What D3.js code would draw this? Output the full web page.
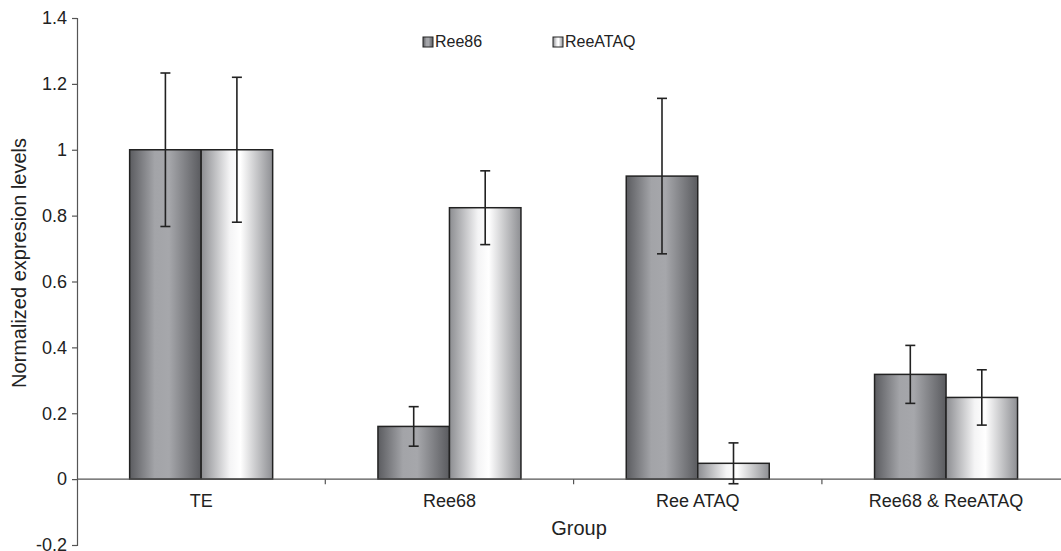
<!DOCTYPE html>
<html>
<head>
<meta charset="utf-8">
<script src="https://cdn.jsdelivr.net/npm/d3@7"></script>
<style>
  body { margin: 0; background: #fff; }
  svg { font-family: "Liberation Sans", Arial, sans-serif; }
</style>
</head>
<body>
<svg id="mysvg" width="1061" height="551"></svg>
<script>
// data
var groups = ["TE", "Ree68", "Ree ATAQ", "Ree68 & ReeATAQ"];
var series = ["Ree86", "ReeATAQ"];
var ree86 = [1.0, 0.16, 0.92, 0.318];
var ree86Err = [0.233, 0.06, 0.236, 0.088];
var reeAtaq = [1.0, 0.824, 0.048, 0.248];
var reeAtaqErr = [0.22, 0.112, 0.062, 0.084];
var yTicks = [-0.2, 0, 0.2, 0.4, 0.6, 0.8, 1, 1.2, 1.4];

var svg = d3.select("#mysvg");

var x0 = 77, yTop = 18, yBot = 545;
var band = 248.3;

var x = d3.scaleBand()
    .domain(groups)
    .range([x0, x0 + band * groups.length])
    .padding(0);

var y = d3.scaleLinear()
    .domain([-0.2, 1.4])
    .range([yBot, yTop]);

var barW = 71.5;

// gradients for the cylinder-ish bars
var defs = svg.append("defs");
function grad(id, stops) {
    var g = defs.append("linearGradient").attr("id", id)
        .attr("x1", "0%").attr("x2", "100%").attr("y1", "0%").attr("y2", "0%");
    stops.forEach(function(s) {
        g.append("stop").attr("offset", s[0]).attr("stop-color", s[1]);
    });
}
grad("gDark", [["0%", "#5b5c60"], ["35%", "#a3a4a8"], ["55%", "#a6a7ab"], ["100%", "#5a5b5f"]]);
grad("gLight", [["0%", "#8c8d91"], ["40%", "#f4f4f5"], ["55%", "#ffffff"], ["100%", "#8e8f93"]]);

var fills = {"Ree86": "url(#gDark)", "ReeATAQ": "url(#gLight)"};

var rows = [];
groups.forEach(function(g, i) {
    rows.push({group: g, s: "Ree86", v: ree86[i], e: ree86Err[i]});
    rows.push({group: g, s: "ReeATAQ", v: reeAtaq[i], e: reeAtaqErr[i]});
});

var x1 = d3.scaleBand().domain(series).range([0, barW * 2]).padding(0);
function barX(d) { return x(d.group) + x.bandwidth() / 2 - barW + x1(d.s); }

// bars
svg.append("g").selectAll("rect")
    .data(rows)
    .enter()
    .append("rect")
    .attr("x", barX)
    .attr("width", x1.bandwidth())
    .attr("y", function(d) { return y(d.v); })
    .attr("height", function(d) { return y(0) - y(d.v); })
    .attr("fill", function(d) { return fills[d.s]; })
    .attr("stroke", "#222")
    .attr("stroke-width", 1.5);

// x axis line at zero
svg.append("line")
    .attr("x1", x0).attr("x2", 1061)
    .attr("y1", y(0)).attr("y2", y(0))
    .attr("stroke", "#555").attr("stroke-width", 1.2);

// x category boundary ticks
svg.append("g").selectAll("line")
    .data(groups.slice(1))
    .enter()
    .append("line")
    .attr("x1", function(d) { return x(d); })
    .attr("x2", function(d) { return x(d); })
    .attr("y1", y(0)).attr("y2", y(0) + 5)
    .attr("stroke", "#555").attr("stroke-width", 1.2);

// x labels
svg.append("g").selectAll("text")
    .data(groups)
    .enter()
    .append("text")
    .attr("x", function(d) { return x(d) + x.bandwidth() / 2; })
    .attr("y", 507)
    .attr("text-anchor", "middle")
    .attr("font-size", 18)
    .attr("fill", "#222")
    .text(function(d) { return d; });

// error bars
var eb = svg.append("g").attr("stroke", "#222").attr("stroke-width", 1.6);
rows.forEach(function(d) {
    var cx = barX(d) + x1.bandwidth() / 2;
    eb.append("line").attr("x1", cx).attr("x2", cx)
        .attr("y1", y(d.v + d.e)).attr("y2", y(d.v - d.e));
    [d.v + d.e, d.v - d.e].forEach(function(v) {
        eb.append("line").attr("x1", cx - 5).attr("x2", cx + 5)
            .attr("y1", y(v)).attr("y2", y(v));
    });
});

// y axis
var yAxis = d3.axisLeft(y)
    .tickValues(yTicks)
    .tickSize(5)
    .tickFormat(function(d) { return String(+d.toFixed(1)); });
var ya = svg.append("g")
    .attr("transform", "translate(" + x0 + ",0)")
    .call(yAxis);
ya.select(".domain").attr("stroke", "#555").attr("stroke-width", 1.2);
ya.selectAll(".tick line").attr("stroke", "#555").attr("stroke-width", 1.2);
ya.selectAll(".tick text")
    .attr("font-size", 18)
    .attr("font-family", "Liberation Sans, Arial, sans-serif")
    .attr("fill", "#222")
    .attr("x", -10);

// axis titles
svg.append("text")
    .attr("transform", "translate(26,263) rotate(-90)")
    .attr("text-anchor", "middle")
    .attr("font-size", 20)
    .attr("fill", "#222")
    .text("Normalized expresion levels");

svg.append("text")
    .attr("x", 579)
    .attr("y", 535)
    .attr("text-anchor", "middle")
    .attr("font-size", 20)
    .attr("fill", "#222")
    .text("Group");

// legend
var legend = svg.append("g");
var legX = [423, 553];
series.forEach(function(s, i) {
    legend.append("rect")
        .attr("x", legX[i]).attr("y", 37)
        .attr("width", 10).attr("height", 10)
        .attr("fill", fills[s])
        .attr("stroke", "#222").attr("stroke-width", 1);
    legend.append("text")
        .attr("x", legX[i] + 12).attr("y", 47)
        .attr("font-size", 16)
        .attr("fill", "#222")
        .text(s);
});
</script>
</body>
</html>
